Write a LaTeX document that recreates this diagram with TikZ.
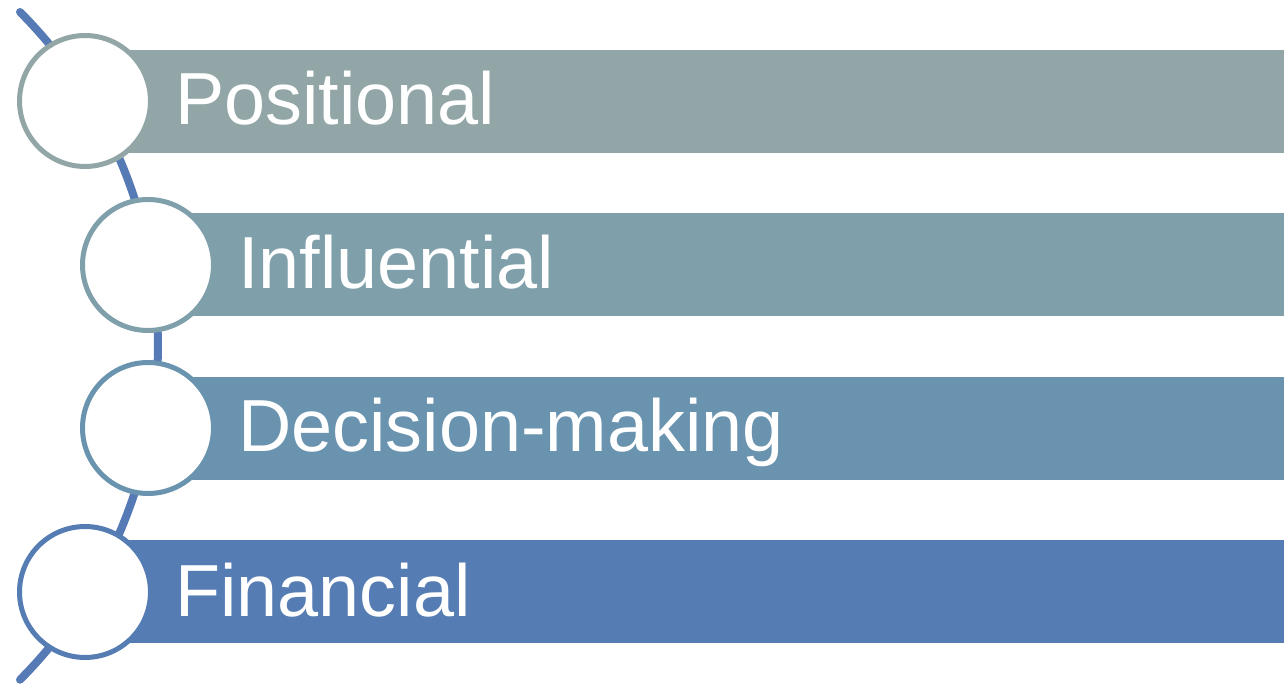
\documentclass[tikz,border=0pt]{standalone}
\usepackage{fontspec}
\setmainfont{Liberation Sans}
\usetikzlibrary{calc}
\definecolor{barA}{HTML}{93A6A7}
\definecolor{barB}{HTML}{7FA0AA}
\definecolor{barC}{HTML}{6993AF}
\definecolor{barD}{HTML}{557CB3}
\definecolor{spine}{HTML}{557AB5}
\tikzset{
  ring/.style={circle, draw=#1, fill=white, line width=0.1cm, minimum size=2.62cm, inner sep=0pt},
  label/.style={anchor=base west, inner sep=0pt, text=white, font=\fontsize{42}{50}\selectfont}
}
\begin{document}
\begin{tikzpicture}[x=0.02cm, y=-0.02cm]
		%%%%% START %%%%%
		\useasboundingbox (0, 0) rectangle (1284, 688);
		
		\coordinate (top) at (20, 12);
		\draw[spine, line width=0.16cm, line cap=round] (top) arc (-44.9:44.9:473);
		
		\fill[barA] (86, 50) rectangle (1284, 153);
		\fill[barB] (148, 213) rectangle (1284, 316);
		\fill[barC] (148, 377) rectangle (1284, 480);
		\fill[barD] (86, 540) rectangle (1284, 643);
		
		\node[ring=barA] (c1) at (85, 101) {};
		\node[ring=barB] (c2) at (148, 265) {};
		\node[ring=barC] (c3) at (148, 428) {};
		\node[ring=barD] (c4) at (85, 592) {};
		
		\node[label] (t1) at (175, 125) {Positional};
		\node[label] (t2) at (238, 289) {Influential};
		\node[label] (t3) at (238, 452) {Decision-making};
		\node[label] (t4) at (175, 616) {Financial};
		%%%%% END %%%%%
\end{tikzpicture}
\end{document}
